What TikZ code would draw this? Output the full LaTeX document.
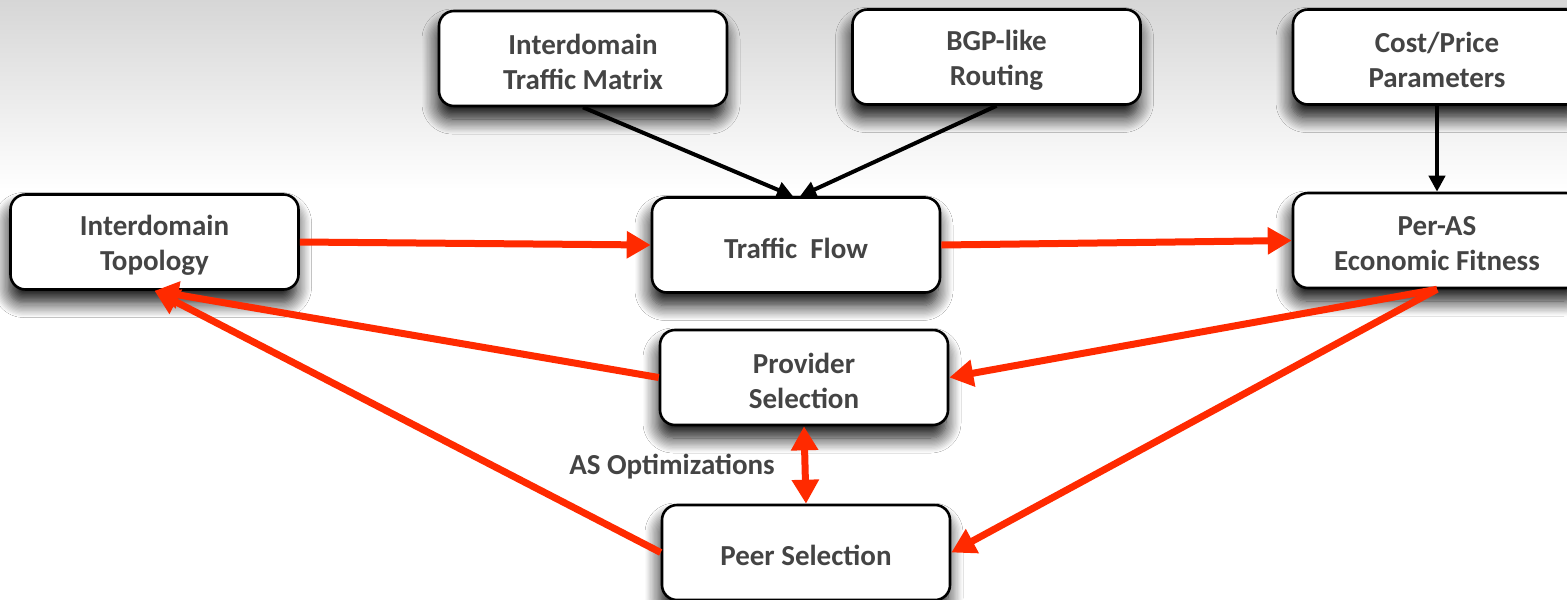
\documentclass[tikz,border=0pt]{standalone}
\usepackage{fontspec}
\setmainfont{Carlito}
\usetikzlibrary{arrows.meta,shadows.blur}
\definecolor{txt}{HTML}{444444}
\definecolor{redarr}{RGB}{255,42,0}
\tikzset{
  box/.style={draw=black, line width=2.6pt, rounded corners=15pt, fill=white,
    minimum width=288pt, minimum height=95pt, inner sep=0pt,
    blur shadow={shadow xshift=-2pt, shadow yshift=-13pt, shadow blur radius=15pt, shadow blur steps=12, shadow opacity=95}},
  lbl/.style={text=txt, font=\fontsize{29}{35}\selectfont\bfseries, align=center, inner sep=0pt},
  redline/.style={draw=redarr, line width=7pt, -{Triangle[length=24pt,width=26pt]}},
  redboth/.style={draw=redarr, line width=7pt, {Triangle[length=24pt,width=26pt]}-{Triangle[length=24pt,width=26pt]}},
  blackline/.style={draw=black, line width=4pt, -{Triangle[length=16pt,width=16pt]}}
}
\begin{document}
\begin{tikzpicture}[x=1pt,y=-1pt]
\useasboundingbox (0,0) rectangle (1567,600);
\fill[white] (0,0) rectangle (1567,600);
\shade[top color=black!16, bottom color=white] (0,0) rectangle (1567,190);

\node[box, label={[lbl,yshift=-3pt]center:Interdomain\\Traffic Matrix}] (tm) at (583,58.5) {};
\node[box, label={[lbl,yshift=-3pt]center:BGP-like\\Routing}] (bgp) at (996.5,57) {};
\node[box, label={[lbl,yshift=-3pt]center:Cost/Price\\Parameters}] (cost) at (1437,57) {};
\node[box, label={[lbl,yshift=-3pt]center:Interdomain\\Topology}] (topo) at (154.5,242) {};
\node[box, label={[lbl,yshift=-3pt]center:Traffic\ \ Flow}] (flow) at (796,245) {};
\node[box, label={[lbl,yshift=-3pt]center:Per-AS\\Economic Fitness}] (peras) at (1437,240.5) {};
\node[box, label={[lbl,yshift=-3pt]center:Provider\\Selection}] (prov) at (804,377.5) {};
\node[box, label={[lbl,yshift=-3pt]center:Peer Selection}] (peer) at (806,552.5) {};

\node[lbl] (opt) at (672,467) {AS Optimizations};

\draw[blackline] (tm.south) -- ([xshift=-3pt]flow.north);
\draw[blackline] (bgp.south) -- ([xshift=4pt]flow.north);
\draw[blackline] (cost.south) -- (peras.north);

\draw[redline] (topo.east) -- (flow.west);
\draw[redline] (flow.east) -- (peras.west);
\draw[redline] (peras.south) -- (prov.east);
\draw[redline] (peras.south) -- (peer.east);
\draw[redline] (prov.west) -- (topo.south);
\draw[redline] (peer.west) -- (topo.south);
\draw[redboth] (prov.south) -- (peer.north);
\end{tikzpicture}
\end{document}
